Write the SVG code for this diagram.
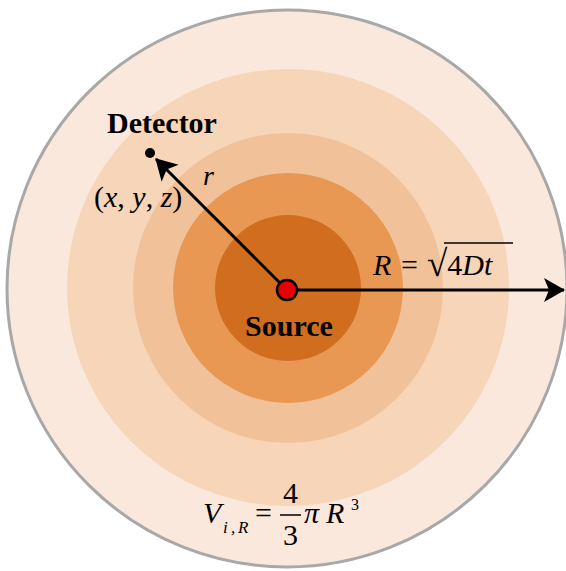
<svg xmlns="http://www.w3.org/2000/svg" width="566" height="571" viewBox="0 0 566 571">
<defs>
<style>
.b{font-weight:bold}
.i{font-style:italic}
.conn{stroke:#000;stroke-width:3;fill:none}
</style>
<marker id="ah" markerUnits="userSpaceOnUse" viewBox="-1 -13 23 26" markerWidth="23" markerHeight="26" refX="20" refY="0" orient="auto">
<path d="M0,-12 L21,0 L0,12 L5,0 Z" fill="#000"/>
</marker>
</defs>
<rect width="566" height="571" fill="#fff"/>
<g id="rings">
<ellipse cx="287" cy="288.5" rx="280" ry="278.5" fill="#FAE8DC" stroke="#A8A8A8" stroke-width="3"/>
<ellipse cx="288" cy="287.5" rx="221" ry="218.5" fill="#F6D5B8"/>
<circle cx="288" cy="288" r="155" fill="#F1C29A"/>
<circle cx="288" cy="288" r="115" fill="#E89852"/>
<circle cx="288" cy="288" r="73" fill="#D06D1E"/>
</g>
<g id="connectors">
<line class="conn" x1="287" y1="290" x2="156" y2="159" marker-end="url(#ah)"/>
<line class="conn" x1="287" y1="290" x2="564" y2="290" marker-end="url(#ah)"/>
</g>
<g font-family="'Liberation Serif', 'Times New Roman', serif" fill="#000">
<g id="source">
<circle cx="287" cy="290" r="10" fill="#E60000" stroke="#000" stroke-width="2.5"/>
<text class="b" x="289" y="336" font-size="30" text-anchor="middle">Source</text>
</g>
<g id="detector">
<circle cx="150" cy="153" r="5" fill="#000"/>
<text class="b" x="162" y="133" font-size="30" text-anchor="middle">Detector</text>
<text x="94" y="207" font-size="30">(<tspan class="i">x</tspan>, <tspan class="i">y</tspan>, <tspan class="i">z</tspan>)</text>
</g>
<g id="labels">
<text class="i" x="203" y="185" font-size="28">r</text>
<text class="i" x="373" y="275" font-size="30">R</text>
<text x="401" y="275" font-size="30">=</text>
<text x="427" y="276"><tspan font-size="37">√</tspan><tspan font-size="30" y="275">4</tspan><tspan class="i" font-size="30">Dt</tspan></text>
<line x1="444" y1="243" x2="513" y2="243" stroke="#000" stroke-width="1.5"/>
<text class="i" x="203" y="523" font-size="30">V</text>
<text class="i" y="533" font-size="17"><tspan x="223">i</tspan><tspan x="231">,</tspan><tspan x="238">R</tspan></text>
<text x="255" y="523" font-size="30">=</text>
<text x="283" y="503" font-size="30">4</text>
<line x1="280" y1="515" x2="301" y2="515" stroke="#000" stroke-width="1.5"/>
<text x="283" y="545" font-size="30">3</text>
<text class="i" x="304" y="523" font-size="30">π</text>
<text class="i" x="326" y="523" font-size="30">R</text>
<text x="351" y="510" font-size="16">3</text>
</g>
</g>
</svg>
